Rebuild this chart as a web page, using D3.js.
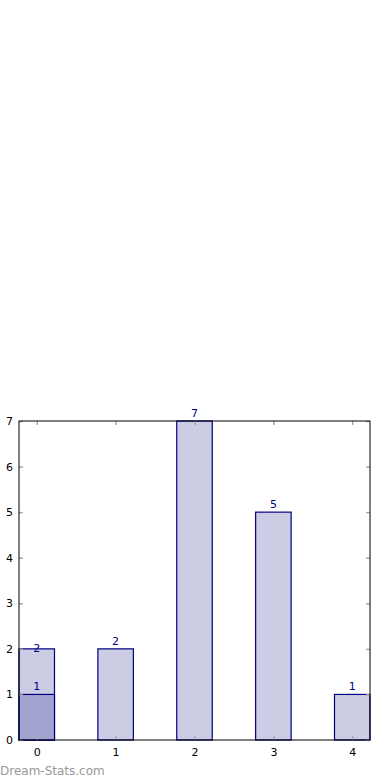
<!DOCTYPE html>
<html>
<head>
<meta charset="utf-8">
<script src="https://cdn.jsdelivr.net/npm/d3@7"></script>
<style>
  body { margin: 0; background: #fff; }
  svg { display: block; }
  text { font-family: "DejaVu Sans", sans-serif; }
</style>
</head>
<body>
<div id="chart"></div>
<script>
// DATA
const categories = [0, 1, 2, 3, 4];
const totalCounts = [2, 2, 7, 5, 1];
const subCounts = [1, 0, 0, 0, 0];
const yTicks = [0, 1, 2, 3, 4, 5, 6, 7];

// SVG
const W = 390, H = 780;
const margin = {top: 421, right: 20, bottom: 40, left: 19};
const width = W - margin.left - margin.right;
const height = H - margin.top - margin.bottom;

const svg = d3.select("#chart").append("svg")
  .attr("width", W)
  .attr("height", H);

const g = svg.append("g")
  .attr("transform", `translate(${margin.left},${margin.top})`);

// SCALES
const barW = 0.45;
const xs = d3.scaleLinear()
  .domain([-barW / 2, categories.length - 1 + barW / 2])
  .range([0, width]);
const ys = d3.scaleLinear()
  .domain([0, 7])
  .range([height, 0]);

// BARS - total
g.selectAll("rect.total")
  .data(categories)
  .enter().append("rect")
  .attr("class", "total")
  .attr("x", d => xs(d - barW / 2))
  .attr("width", d => xs(d + barW / 2) - xs(d - barW / 2))
  .attr("y", (d, i) => ys(totalCounts[i]))
  .attr("height", (d, i) => ys(0) - ys(totalCounts[i]))
  .attr("fill", "#ccccE4")
  .attr("stroke", "#000080")
  .attr("stroke-width", 1.2);

// BARS - subset
g.selectAll("rect.sub")
  .data(categories.filter((d, i) => subCounts[i] > 0))
  .enter().append("rect")
  .attr("class", "sub")
  .attr("x", d => xs(d - barW / 2))
  .attr("width", d => xs(d + barW / 2) - xs(d - barW / 2))
  .attr("y", d => ys(subCounts[d]))
  .attr("height", d => ys(0) - ys(subCounts[d]))
  .attr("fill", "#a3a3d0")
  .attr("stroke", "#000080")
  .attr("stroke-width", 1.2);

// labels (total label sits a bit lower where a subset bar exists)
g.selectAll("text.lt")
  .data(categories)
  .enter().append("text")
  .attr("class", "lt")
  .attr("x", d => xs(d))
  .attr("y", (d, i) => ys(totalCounts[i]) + (subCounts[i] > 0 ? 3 : -4))
  .attr("text-anchor", "middle")
  .style("font-size", "11px")
  .style("fill", "#00008b")
  .text((d, i) => totalCounts[i]);

g.selectAll("text.ls")
  .data(categories.filter((d, i) => subCounts[i] > 0))
  .enter().append("text")
  .attr("class", "ls")
  .attr("x", d => xs(d))
  .attr("y", d => ys(subCounts[d]) - 4)
  .attr("text-anchor", "middle")
  .style("font-size", "11px")
  .style("fill", "#00008b")
  .text(d => subCounts[d]);

// AXES - inward ticks, gray
const tickColor = "#aaaaaa";
const xAxisB = g.append("g")
  .attr("transform", `translate(0,${height})`)
  .call(d3.axisBottom(xs).tickValues(categories).tickSize(-4).tickPadding(8).tickFormat(d3.format("d")));
const xAxisT = g.append("g")
  .call(d3.axisTop(xs).tickValues(categories).tickSize(-4).tickFormat(""));
const yAxisL = g.append("g")
  .call(d3.axisLeft(ys).tickValues(yTicks).tickSize(-4).tickPadding(6).tickFormat(d3.format("d")));
const yAxisR = g.append("g")
  .attr("transform", `translate(${width},0)`)
  .call(d3.axisRight(ys).tickValues(yTicks).tickSize(-4).tickFormat(""));

[xAxisB, xAxisT, yAxisL, yAxisR].forEach(a => {
  a.select(".domain").remove();
  a.selectAll(".tick line").attr("stroke", tickColor).attr("stroke-width", 1.5);
  a.selectAll(".tick text").style("font-size", "11px").style("fill", "#000")
    .style("font-family", "DejaVu Sans, sans-serif");
});

// frame
g.append("rect")
  .attr("width", width)
  .attr("height", height)
  .attr("fill", "none")
  .attr("stroke", "#000")
  .attr("stroke-width", 1);

// watermark
svg.append("text")
  .attr("x", 0)
  .attr("y", 775)
  .style("font-size", "12px")
  .style("fill", "#999999")
  .text("Dream-Stats.com");
</script>
</body>
</html>
